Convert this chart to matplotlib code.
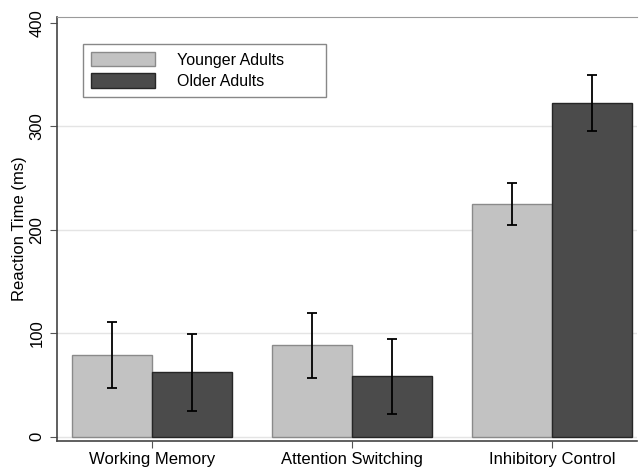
import numpy as np
import matplotlib
matplotlib.use('Agg')
import matplotlib.pyplot as plt

plt.rcParams['font.family'] = ['Liberation Sans', 'DejaVu Sans']

categories = ['Working Memory', 'Attention Switching', 'Inhibitory Control']
younger = [79, 88, 225]
younger_err = [32, 31, 20.5]
older = [62, 58, 322]
older_err = [37, 36, 27]
yticks = [0, 100, 200, 300, 400]

fig = plt.figure(figsize=(6.4, 4.72), dpi=100)
ax = fig.add_axes([0.089, 0.066, 0.906, 0.898])

x = np.arange(len(categories))
w = 0.4
err_kw = dict(ecolor='black', elinewidth=1.3, capsize=3.5, capthick=1.3)
ax.bar(x - w / 2, younger, w, yerr=younger_err, color='#c2c2c2', edgecolor='#8a8a8a',
       linewidth=1, label='Younger Adults', error_kw=err_kw, zorder=2)
ax.bar(x + w / 2, older, w, yerr=older_err, color='#4b4b4b', edgecolor='#262626',
       linewidth=1, label='Older Adults', error_kw=err_kw, zorder=2)

ax.set_xlim(-0.475, 2.425)
ax.set_ylim(-4.2, 405.5)
ax.set_xticks(x)
ax.set_xticklabels(categories, fontsize=12)
ax.set_yticks(yticks)
ax.set_yticklabels([str(t) for t in yticks], rotation=90, va='center', fontsize=12)
ax.set_ylabel('Reaction Time (ms)', fontsize=12, labelpad=2)

ax.yaxis.grid(True, color='#e4e4e4', linewidth=1, zorder=0)
ax.get_ygridlines()[-1].set_visible(False)
ax.set_axisbelow(True)
ax.tick_params(direction='out', length=5, color='#555555', pad=3)
ax.tick_params(axis='y', pad=4)
for side in ['left', 'bottom']:
    ax.spines[side].set_color('#444444')
    ax.spines[side].set_linewidth(1.2)
ax.spines['top'].set_color('#9a9a9a')
ax.spines['right'].set_visible(False)

leg = ax.legend(loc='upper left', bbox_to_anchor=(0.0448, 0.0, 0.42, 0.936), mode='expand',
                borderaxespad=0, fontsize=11.5, fancybox=False, edgecolor='#888888',
                framealpha=1, handlelength=4.0, handleheight=1.0, handletextpad=1.4,
                borderpad=0.5, labelspacing=0.35)
leg.get_frame().set_linewidth(1)

fig.savefig('out.png', dpi=100)
